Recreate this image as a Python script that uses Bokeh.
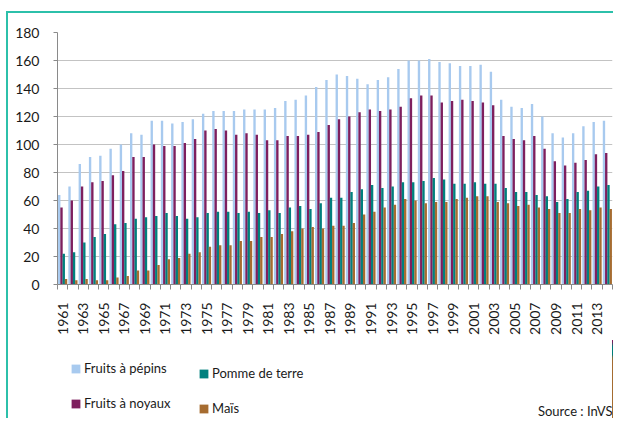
from math import pi
from bokeh.plotting import figure
from bokeh.layouts import column
from bokeh.models import (Range1d, FixedTicker, Legend, LegendItem, Label,
                          ColumnDataSource)
from bokeh.transform import dodge
from bokeh.embed import file_html
from bokeh.resources import INLINE

years = list(range(1961, 2015))

fruits_pepins = [64, 70, 86, 91, 92, 97, 100, 108, 107, 117,
                 117, 115, 116, 118, 122, 124, 124, 124, 125, 125,
                 125, 126, 131, 132, 135, 141, 146, 150, 149, 147,
                 143, 146, 148, 154, 160, 160, 161, 159, 158, 156,
                 156, 157, 152, 132, 127, 126, 129, 120, 108, 105,
                 108, 113, 116, 117]
fruits_noyaux = [55, 60, 70, 73, 74, 78, 81, 91, 91, 100,
                 99, 99, 101, 104, 110, 111, 110, 107, 108, 107,
                 103, 103, 106, 106, 107, 109, 114, 118, 120, 123,
                 125, 124, 125, 127, 133, 135, 135, 130, 131, 132,
                 131, 130, 128, 106, 104, 103, 106, 97, 88, 85,
                 87, 89, 93, 94]
pomme_de_terre = [22, 23, 30, 34, 36, 43, 44, 47, 48, 49,
                  51, 49, 47, 48, 51, 52, 52, 51, 52, 51,
                  53, 51, 55, 56, 54, 58, 62, 62, 66, 68,
                  71, 69, 70, 73, 73, 74, 76, 75, 72, 72,
                  73, 72, 72, 69, 66, 66, 64, 63, 59, 61,
                  66, 67, 70, 71]
mais = [4, 3, 4, 3, 3, 5, 6, 10, 10, 14,
        18, 19, 22, 23, 27, 28, 28, 31, 31, 34,
        34, 36, 38, 40, 41, 40, 42, 42, 44, 50,
        52, 55, 57, 61, 60, 58, 59, 59, 61, 62,
        63, 63, 59, 58, 56, 57, 55, 54, 51, 51,
        54, 53, 55, 54]

series_names = ["Fruits à pépins", "Fruits à noyaux", "Pomme de terre", "Maïs"]
series_colors = ["#A8CAEF", "#7E1F5E", "#00807E", "#A66C30"]
y_ticks = [0, 20, 40, 60, 80, 100, 120, 140, 160, 180]
x_label_years = years[::2]
x_tick_labels = [str(y) for y in x_label_years]
source_text = "Source : InVS"

FONT = "Lato"
TEXT_COLOR = "#1A1A1A"
BORDER_COLOR = "#2CC0AA"

W = 613
H_MAIN = 340
H_LEG = 78
FRAME_LEFT = 57
FRAME_RIGHT = 612

src = ColumnDataSource(dict(year=years, pepins=fruits_pepins, noyaux=fruits_noyaux,
                            pdt=pomme_de_terre, mais=mais))

p = figure(width=W, height=H_MAIN, output_backend="svg", toolbar_location=None,
           x_range=Range1d(1960.5, 2014.5), y_range=Range1d(0, 180),
           min_border_left=FRAME_LEFT, min_border_right=W - FRAME_RIGHT,
           min_border_top=32, min_border_bottom=56)
p.outline_line_color = None
p.background_fill_color = "white"
p.border_fill_alpha = 0

cols = ["pepins", "noyaux", "pdt", "mais"]
offsets = [-0.33, -0.11, 0.11, 0.33]
for c, off, col in zip(cols, offsets, series_colors):
    p.vbar(x=dodge("year", off, range=p.x_range), top=c, width=0.23,
           source=src, fill_color=col, line_color=None)

# grid
p.xgrid.visible = False
p.ygrid.grid_line_color = "#C3C3C3"
p.ygrid.grid_line_width = 1

# y axis
p.yaxis.ticker = FixedTicker(ticks=y_ticks)
p.yaxis.axis_line_color = "#8A8A8A"
p.yaxis.major_tick_line_color = "#8A8A8A"
p.yaxis.major_tick_out = 4
p.yaxis.major_tick_in = 0
p.yaxis.minor_tick_line_color = None
p.yaxis.major_label_standoff = 14
p.yaxis.major_label_text_font = FONT
p.yaxis.major_label_text_font_size = "14px"
p.yaxis.major_label_text_color = TEXT_COLOR

# x axis
p.xaxis.ticker = FixedTicker(ticks=x_label_years,
                             minor_ticks=[y - 0.5 for y in years] + [years[-1] + 0.5])
p.xaxis.major_label_overrides = dict(zip(x_label_years, x_tick_labels))
p.xaxis.axis_line_color = "#8A8A8A"
p.xaxis.major_tick_line_color = None
p.xaxis.major_tick_out = 0
p.xaxis.major_tick_in = 0
p.xaxis.minor_tick_line_color = "#8A8A8A"
p.xaxis.minor_tick_out = 5
p.xaxis.minor_tick_in = 0
p.xaxis.major_label_orientation = pi / 2
p.xaxis.major_label_standoff = 13
p.xaxis.major_label_text_font = FONT
p.xaxis.major_label_text_font_size = "14px"
p.xaxis.major_label_text_color = TEXT_COLOR

# legend / source panel (its frame is aligned with the main frame: x in page pixels)
p2 = figure(width=W, height=H_LEG, output_backend="svg", toolbar_location=None,
            x_range=Range1d(FRAME_LEFT, FRAME_RIGHT), y_range=Range1d(0, H_LEG),
            x_axis_type=None, y_axis_type=None, min_border=0,
            min_border_left=FRAME_LEFT, min_border_right=W - FRAME_RIGHT)
p2.grid.visible = False
p2.outline_line_color = None
p2.background_fill_alpha = 0
p2.border_fill_alpha = 0

# legend proxies: same data, but lying outside this panel's visible range
proxies = []
for c, col in zip(cols, series_colors):
    proxies.append(p2.vbar(x="year", top=c, width=1, source=src,
                           fill_color=col, line_color=None))

legend_common = dict(orientation="vertical", spacing=15, glyph_width=11, glyph_height=11,
                     label_height=20, label_standoff=3, padding=0, margin=0,
                     border_line_color=None, background_fill_alpha=0,
                     label_text_font=FONT, label_text_font_size="13px",
                     label_text_color=TEXT_COLOR)
leg1 = Legend(items=[LegendItem(label=series_names[0], renderers=[proxies[0]], index=0),
                     LegendItem(label=series_names[1], renderers=[proxies[1]], index=0)],
              location=(70 - FRAME_LEFT, 5), **legend_common)
leg2 = Legend(items=[LegendItem(label=series_names[2], renderers=[proxies[2]], index=0),
                     LegendItem(label=series_names[3], renderers=[proxies[3]], index=0)],
              location=(198 - FRAME_LEFT, 0), **legend_common)
p2.add_layout(leg1)
p2.add_layout(leg2)

p2.add_layout(Label(x=FRAME_RIGHT, y=8, text=source_text, text_align="right",
                    text_baseline="middle", text_font=FONT, text_font_size="13px",
                    text_color=TEXT_COLOR))

layout = column(p, p2, spacing=0)
layout.styles = {
    "background-image": f"linear-gradient({BORDER_COLOR}, {BORDER_COLOR}), "
                        f"linear-gradient({BORDER_COLOR}, {BORDER_COLOR})",
    "background-position": "6px 11px, 6px 11px",
    "background-size": "2px 100%, 100% 2px",
    "background-repeat": "no-repeat, no-repeat",
}

open("out.html", "w").write(file_html(layout, INLINE))
